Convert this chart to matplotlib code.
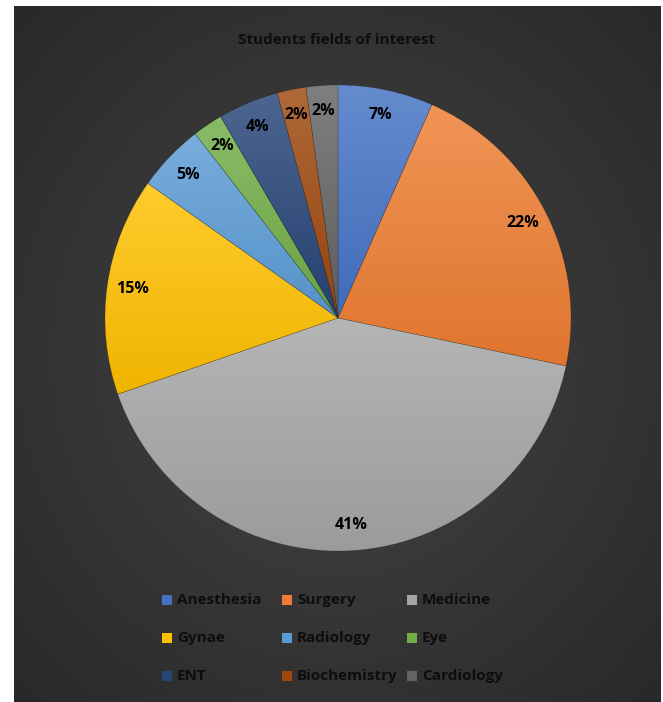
import numpy as np
import matplotlib
matplotlib.use("Agg")
import matplotlib.pyplot as plt
from matplotlib.colors import to_rgb
from matplotlib.patches import Rectangle

plt.rcParams['font.family'] = ['Open Sans', 'DejaVu Sans']

title = "Students fields of interest"
categories = ["Anesthesia", "Surgery", "Medicine", "Gynae", "Radiology", "Eye",
              "ENT", "Biochemistry", "Cardiology"]
values = [6.6, 21.7, 41.4, 15.1, 4.7, 2.1, 4.2, 2.0, 2.2]
colors = ["#4472C4", "#ED7D31", "#A5A5A5", "#FFC000", "#5B9BD5", "#70AD47",
          "#264478", "#9E480E", "#636363"]

W, H = 663, 702
fig = plt.figure(figsize=(W / 100, H / 100), dpi=100)
fig.patch.set_facecolor("white")

# background panel with radial gradient
x0, y0, x1, y1 = 14, 6, 661, 702
bg = fig.add_axes([x0 / W, 1 - y1 / H, (x1 - x0) / W, (y1 - y0) / H])
bg.set_axis_off()
yy, xx = np.mgrid[0:1:300j, 0:1:300j]
d = np.sqrt((xx - 0.5) ** 2 + (yy - 0.5) ** 2) / 0.7071
c_in = np.array([0.27, 0.27, 0.27])
c_out = np.array([0.16, 0.16, 0.16])
img = c_in[None, None, :] * (1 - d[..., None]) + c_out[None, None, :] * d[..., None]
bg.imshow(img, extent=(0, 1, 0, 1), aspect="auto", interpolation="bilinear")
bg.set_xlim(0, 1)
bg.set_ylim(0, 1)

# pie
cx, cy, r = 338, 318, 233
ax = fig.add_axes([(cx - r) / W, (H - cy - r) / H, 2 * r / W, 2 * r / H])
wedges, texts, autotexts = ax.pie(
    values, colors=colors, startangle=90, counterclock=False,
    autopct="%.0f%%", pctdistance=0.89, radius=1,
    wedgeprops=dict(linewidth=0.3, edgecolor=(0, 0, 0, 0.3)),
    textprops=dict(fontsize=11.5, fontweight="bold", color="black"))
ax.set_axis_off()

def lighten(c, f):
    c = np.array(to_rgb(c))
    return c + (1 - c) * f

for w, col in zip(wedges, colors):
    w.set_facecolor("none")
    verts = w.get_path().vertices
    ymin, ymax = verts[:, 1].min(), verts[:, 1].max()
    top = lighten(col, 0.18)
    bot = np.array(to_rgb(col)) * 0.94
    t = np.linspace(0, 1, 200)[:, None]
    grad = top[None, :] * (1 - t) + bot[None, :] * t
    grad = np.repeat(grad[:, None, :], 2, axis=1)
    im = ax.imshow(grad, extent=(-1, 1, ymin, ymax), aspect="auto",
                   interpolation="bilinear", zorder=0.5)
    im.set_clip_path(w)
ax.set_xlim(-1, 1)
ax.set_ylim(-1, 1)
for t in autotexts:
    t.set_zorder(5)

fig.text(337 / W, 1 - 40 / H, title, ha="center", va="center",
         fontsize=11, fontweight="bold", color="#0d0d0d")

# legend
col_x = [162, 282, 407]
row_y = [600, 638, 676]
for i, (cat, col) in enumerate(zip(categories, colors)):
    rr, cc = divmod(i, 3)
    px, py = col_x[cc], row_y[rr]
    fig.patches.append(Rectangle((px / W, 1 - (py + 5) / H), 10 / W, 10 / H,
                                 transform=fig.transFigure, facecolor=col,
                                 edgecolor="none"))
    fig.text((px + 15) / W, 1 - py / H, cat, ha="left", va="center",
             fontsize=11, fontweight="bold", color="#0d0d0d")

fig.savefig("out.png", dpi=100, facecolor="white")
